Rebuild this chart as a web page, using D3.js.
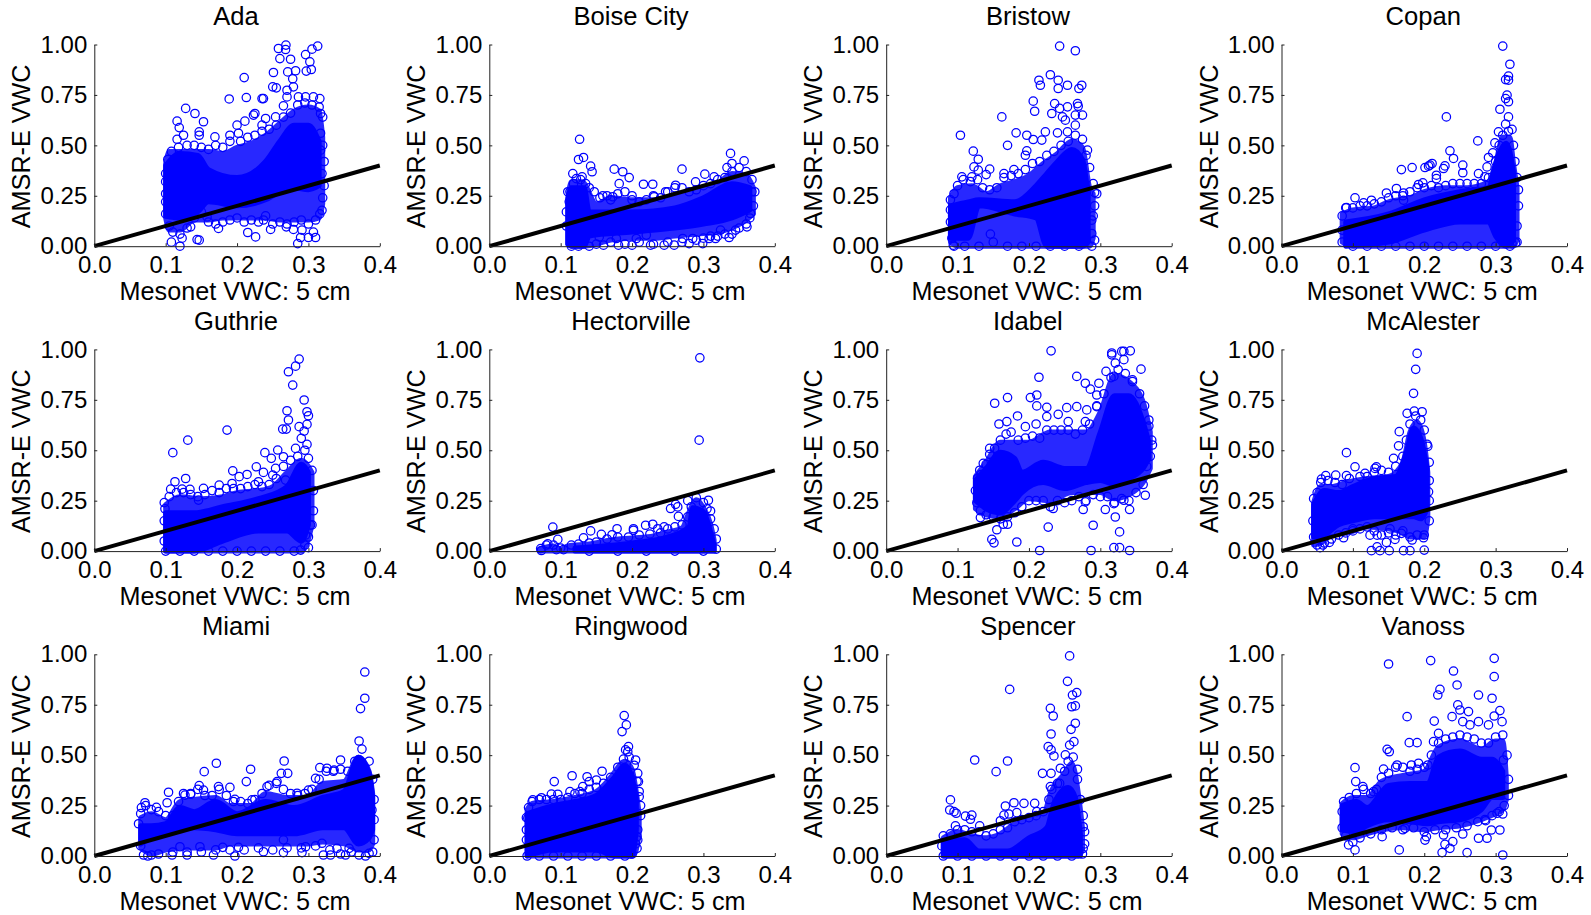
<!DOCTYPE html>
<html>
<head>
<meta charset="utf-8">
<script src="https://cdn.jsdelivr.net/npm/d3@7"></script>
<style>
    html, body { margin: 0; background: #fff; }
    text { font-family: "Liberation Sans", Arial, sans-serif; fill: #000; }
</style>
</head>
<body>
<div id="chart"></div>
<script>
// Axis ticks and reference line
const xTicks = [0, 0.1, 0.2, 0.3, 0.4];
const yTicks = [0, 0.25, 0.5, 0.75, 1];
const oneToOne = [[0, 0], [0.4, 0.4]];

// The clouds are thousands of overlapping rings in the original, too many to read one by one.
// *Cloud and *Core are [x, low, high] outlines (cloud = speckled, core = solid blue),
// *Pts are the rings that can be told apart, *Rim the rings along the edge of the cloud (estimated).
const adaCloud = [[.1,.14,.41],[.105,.08,.47],[.12,.08,.47],[.14,.13,.47],[.16,.13,.47],[.18,.14,.46],[.2,.14,.49],[.22,.14,.51],[.24,.14,.55],[.26,.13,.61],[.28,.13,.67],[.3,.13,.69],[.315,.14,.67],[.32,.21,.54]];
const adaCore = [[.1,.15,.4],[.12,.14,.46],[.145,.17,.45],[.16,.22,.38],[.2,.2,.34],[.24,.23,.42],[.26,.27,.52],[.28,.29,.6],[.3,.28,.6],[.315,.3,.52]];
const adaPts = [[.258,.98],[.2685,.997],[.268,.975],[.296,.95],[.305,.977],[.313,.992],[.26,.93],[.275,.927],[.302,.914],[.304,.876],[.297,.868],[.251,.861],[.271,.864],[.282,.87],[.278,.83],[.21,.836],[.25,.79],[.255,.785],[.27,.773],[.279,.79],[.189,.73],[.213,.737],[.235,.732],[.237,.732],[.27,.74],[.286,.74],[.296,.74],[.307,.74],[.316,.732],[.128,.683],[.141,.658],[.153,.617],[.116,.62],[.119,.588],[.125,.55],[.147,.567],[.147,.55],[.116,.53],[.169,.542],[.2,.6],[.211,.62],[.223,.65],[.225,.658],[.24,.633],[.235,.6],[.254,.641],[.19,.55],[.202,.56],[.265,.696],[.108,.02],[.12,0],[.123,.04],[.144,.033],[.147,.03],[.135,.096],[.174,.088],[.215,.068],[.226,.046],[.237,.13],[.247,.083],[.269,.096],[.279,.083],[.285,.013],[.291,.08],[.289,.043],[.3,.043],[.31,.043],[.307,.07],[.319,.178],[.319,.36],[.317,.476],[.317,.658],[.317,.56],[.1,.36],[.1,.32],[.1,.26],[.158,.145]];
const adaRim = [[.103,.43],[.108,.47],[.118,.49],[.13,.5],[.14,.5],[.15,.49],[.16,.48],[.17,.5],[.18,.49],[.19,.52],[.205,.52],[.215,.54],[.225,.55],[.235,.57],[.245,.58],[.255,.6],[.265,.64],[.275,.66],[.285,.7],[.295,.71],[.305,.7],[.315,.69],[.32,.64],[.32,.5],[.322,.42],[.322,.3],[.32,.24],[.316,.16],[.31,.13],[.3,.11],[.29,.13],[.28,.12],[.27,.11],[.26,.12],[.25,.11],[.24,.15],[.23,.12],[.22,.13],[.21,.12],[.2,.14],[.19,.13],[.18,.12],[.17,.11],[.16,.12],[.15,.17],[.14,.14],[.13,.09],[.12,.06],[.11,.07],[.105,.1],[.1,.16],[.1,.22]];

const boiseCloud = [[.11,.01,.24],[.115,0,.32],[.13,0,.32],[.15,.01,.21],[.17,.03,.24],[.2,.04,.23],[.23,.04,.23],[.26,.05,.25],[.29,.06,.27],[.32,.07,.31],[.34,.09,.36],[.36,.13,.35],[.37,.16,.29]];
const boiseCore = [[.11,.01,.23],[.115,0,.29],[.133,0,.29],[.14,.05,.17],[.2,.07,.17],[.26,.09,.19],[.3,.11,.24],[.34,.14,.31],[.365,.18,.29]];
const boisePts = [[.1265,.53],[.125,.43],[.132,.44],[.142,.397],[.144,.369],[.117,.36],[.13,.344],[.175,.382],[.187,.369],[.196,.34],[.216,.307],[.229,.307],[.27,.382],[.182,.31],[.289,.319],[.302,.357],[.338,.46],[.357,.423],[.333,.39],[.34,.41],[.315,.344],[.261,.302],[.247,.27],[.368,.27],[.366,.162],[.361,.096],[.336,.043],[.345,.08],[.324,.08],[.16,.005],[.181,.005],[.2,.005],[.226,.005],[.245,.005],[.259,.005],[.28,.013],[.299,.013],[.154,.046],[.178,.038],[.206,.038],[.22,.055],[.271,.038],[.285,.038],[.308,.038],[.317,.038],[.159,.25],[.173,.245],[.2,.25],[.231,.245],[.113,.27]];
const boiseRim = [[.11,.27],[.112,.22],[.118,.31],[.122,.335],[.128,.33],[.135,.31],[.14,.29],[.147,.27],[.155,.24],[.165,.25],[.17,.23],[.18,.26],[.19,.27],[.2,.23],[.21,.22],[.22,.23],[.23,.25],[.24,.24],[.25,.27],[.26,.29],[.27,.29],[.28,.27],[.29,.28],[.3,.3],[.31,.31],[.32,.33],[.33,.34],[.34,.37],[.35,.39],[.36,.37],[.368,.33],[.372,.27],[.37,.2],[.365,.14],[.36,.11],[.35,.09],[.34,.06],[.33,.06],[.32,.05],[.31,.05],[.3,.04],[.29,.03],[.27,.02],[.25,.02],[.23,.01],[.21,.02],[.19,.01],[.17,.02],[.15,.01],[.14,0],[.125,0],[.115,0],[.108,.1],[.108,.17]];

const bristowCloud = [[.09,.02,.24],[.1,0,.29],[.12,0,.3],[.14,0,.26],[.16,0,.3],[.18,0,.32],[.2,0,.35],[.22,0,.41],[.24,0,.46],[.26,0,.52],[.275,0,.49],[.285,0,.29],[.29,.04,.26]];
const bristowCore = [[.09,.04,.2],[.115,.04,.22],[.13,.2,.23],[.18,.16,.22],[.21,.14,.3],[.225,0,.36],[.24,0,.42],[.26,0,.48],[.275,0,.43],[.283,.02,.25]];
const bristowPts = [[.243,.992],[.265,.969],[.23,.85],[.214,.823],[.216,.798],[.241,.823],[.241,.782],[.254,.798],[.27,.782],[.274,.798],[.206,.719],[.208,.669],[.236,.707],[.268,.707],[.269,.694],[.254,.691],[.243,.683],[.232,.658],[.265,.65],[.275,.65],[.247,.641],[.251,.625],[.162,.641],[.265,.6],[.104,.55],[.182,.562],[.197,.55],[.206,.529],[.218,.526],[.223,.567],[.24,.562],[.254,.567],[.17,.5],[.122,.471],[.129,.431],[.197,.473],[.195,.451],[.282,.476],[.123,.393],[.129,.377],[.145,.382],[.14,.355],[.106,.344],[.12,.344],[.165,.36],[.179,.38],[.292,.266],[.288,.129],[.288,.063],[.094,.005],[.146,.06]];
const bristowRim = [[.09,.23],[.095,.26],[.1,.3],[.108,.33],[.118,.32],[.128,.33],[.135,.29],[.145,.28],[.155,.29],[.165,.34],[.175,.35],[.185,.36],[.195,.38],[.205,.41],[.215,.42],[.225,.45],[.235,.47],[.245,.5],[.255,.52],[.265,.55],[.275,.53],[.28,.45],[.285,.39],[.29,.31],[.295,.26],[.292,.2],[.29,.15],[.292,.03],[.288,0],[.27,0],[.25,0],[.23,0],[.21,0],[.19,0],[.17,0],[.15,.02],[.13,0],[.11,0],[.095,0],[.092,.04],[.09,.12],[.09,.18]];

const copanCloud = [[.085,.02,.16],[.1,0,.18],[.13,0,.19],[.15,0,.22],[.18,0,.24],[.2,0,.27],[.23,0,.29],[.26,0,.29],[.29,0,.32],[.3,0,.41],[.31,0,.54],[.32,0,.54],[.325,0,.41],[.33,.03,.29]];
const copanCore = [[.09,0,.12],[.15,.02,.16],[.2,.08,.23],[.25,.12,.27],[.29,.12,.29],[.3,.05,.41],[.315,0,.51],[.325,.03,.37]];
const copanPts = [[.31,.992],[.32,.902],[.318,.843],[.314,.826],[.318,.823],[.316,.749],[.314,.732],[.318,.716],[.306,.679],[.318,.641],[.231,.641],[.314,.605],[.304,.567],[.323,.579],[.275,.522],[.299,.512],[.296,.463],[.29,.44],[.236,.473],[.241,.435],[.288,.393],[.168,.38],[.183,.39],[.201,.39],[.208,.402],[.211,.41],[.206,.397],[.217,.352],[.217,.335],[.227,.385],[.229,.398],[.254,.402],[.254,.364],[.276,.36],[.285,.344],[.161,.286],[.171,.264],[.147,.264],[.103,.24],[.115,.215],[.126,.228],[.192,.306],[.198,.314],[.171,.228],[.091,.192],[.328,.017],[.323,.013]];
const copanRim = [[.085,.02],[.085,.08],[.085,.15],[.09,.19],[.1,.19],[.11,.2],[.12,.2],[.13,.21],[.14,.22],[.15,.24],[.16,.25],[.17,.25],[.18,.27],[.19,.29],[.2,.29],[.21,.3],[.22,.29],[.23,.3],[.24,.31],[.25,.31],[.26,.31],[.27,.31],[.28,.31],[.29,.34],[.3,.42],[.305,.5],[.31,.55],[.318,.57],[.325,.5],[.327,.42],[.33,.34],[.332,.28],[.332,.2],[.33,.1],[.33,.02],[.32,0],[.3,0],[.28,0],[.26,0],[.24,0],[.22,0],[.2,0],[.18,0],[.16,0],[.14,0],[.12,0],[.1,0]];

const guthrieCloud = [[.1,0,.23],[.12,0,.27],[.15,0,.26],[.18,0,.27],[.2,0,.29],[.23,0,.3],[.25,0,.32],[.27,0,.39],[.29,0,.45],[.3,.06,.42],[.305,.13,.39]];
const guthrieCore = [[.1,0,.19],[.14,0,.19],[.18,.05,.22],[.23,.1,.26],[.27,.1,.32],[.29,.05,.43],[.3,.13,.39]];
const guthriePts = [[.287,.952],[.282,.917],[.272,.889],[.278,.823],[.294,.749],[.298,.691],[.27,.696],[.3,.671],[.272,.65],[.264,.605],[.269,.605],[.298,.628],[.287,.617],[.294,.595],[.186,.6],[.131,.55],[.11,.488],[.29,.559],[.298,.529],[.282,.509],[.239,.488],[.257,.501],[.248,.46],[.265,.468],[.254,.41],[.227,.418],[.237,.39],[.194,.398],[.203,.369],[.214,.38],[.25,.377],[.128,.36],[.113,.344],[.107,.307],[.123,.307],[.134,.306],[.153,.311],[.175,.327],[.193,.335],[.268,.352],[.23,.344],[.099,.21],[.146,.253],[.3,.017],[.289,.005],[.303,.129],[.296,.08]];
const guthrieRim = [[.098,.24],[.098,.15],[.098,.05],[.1,0],[.105,.27],[.115,.29],[.125,.29],[.135,.28],[.145,.27],[.155,.28],[.165,.3],[.175,.29],[.185,.31],[.195,.31],[.205,.31],[.215,.32],[.225,.33],[.235,.32],[.245,.33],[.255,.36],[.265,.42],[.275,.45],[.285,.47],[.295,.5],[.3,.46],[.305,.4],[.307,.3],[.307,.2],[.305,.13],[.3,.07],[.295,.03],[.28,0],[.26,0],[.24,0],[.22,0],[.2,0],[.18,0],[.16,0],[.14,0],[.12,0]];

const hectorCloud = [[.07,0,.01],[.09,0,.025],[.1,0,.01],[.11,0,.025],[.14,0,.035],[.17,0,.055],[.2,0,.065],[.23,0,.075],[.25,0,.095],[.27,0,.115],[.28,0,.195],[.29,0,.255],[.3,0,.215],[.31,0,.135],[.315,0,.055]];
const hectorCore = [[.12,0,.015],[.2,0,.04],[.25,0,.07],[.28,0,.12],[.285,0,.215],[.3,0,.195],[.31,0,.095],[.315,0,.03]];
const hectorPts = [[.295,.958],[.294,.55],[.089,.119],[.096,.058],[.082,.036],[.132,.066],[.142,.1],[.157,.083],[.172,.081],[.179,.111],[.202,.103],[.202,.111],[.219,.128],[.229,.133],[.236,.111],[.254,.211],[.261,.232],[.264,.219],[.265,.172],[.307,.252],[.31,.199],[.278,.25],[.073,.003],[.094,.007],[.104,.007],[.245,.12]];
const hectorRim = [[.072,.012],[.08,.03],[.09,.03],[.1,.015],[.115,.03],[.125,.035],[.14,.04],[.15,.045],[.165,.06],[.18,.07],[.195,.07],[.21,.08],[.225,.085],[.24,.09],[.25,.11],[.26,.12],[.27,.13],[.278,.17],[.283,.22],[.29,.265],[.3,.24],[.305,.21],[.31,.16],[.315,.11],[.318,.06],[.318,.01],[.3,0],[.26,0],[.22,0],[.18,0],[.14,0]];

const idabelCloud = [[.125,.21,.37],[.14,.18,.44],[.16,.17,.54],[.18,.21,.54],[.2,.26,.54],[.23,.25,.59],[.26,.29,.59],[.28,.29,.59],[.3,.29,.69],[.32,.26,.87],[.34,.28,.84],[.36,.34,.74],[.37,.41,.59]];
const idabelCore = [[.125,.25,.35],[.14,.21,.41],[.16,.19,.49],[.18,.25,.46],[.19,.29,.39],[.22,.34,.44],[.25,.31,.41],[.28,.34,.41],[.3,.35,.59],[.32,.33,.77],[.34,.36,.77],[.36,.41,.64],[.368,.46,.54]];
const idabelPts = [[.231,.993],[.342,.993],[.333,.99],[.33,.99],[.316,.982],[.316,.973],[.321,.932],[.333,.949],[.357,.902],[.308,.891],[.319,.866],[.267,.866],[.214,.862],[.279,.832],[.298,.832],[.345,.849],[.286,.803],[.295,.774],[.211,.774],[.202,.761],[.17,.761],[.152,.733],[.211,.72],[.225,.713],[.253,.711],[.267,.716],[.281,.7],[.295,.716],[.241,.678],[.184,.67],[.225,.667],[.158,.63],[.169,.642],[.21,.63],[.195,.617],[.255,.642],[.279,.642],[.145,.509],[.136,.435],[.131,.401],[.368,.65],[.373,.526],[.363,.277],[.341,.206],[.321,.169],[.327,.095],[.29,.128],[.227,.119],[.17,.133],[.164,.133],[.155,.106],[.148,.058],[.151,.041],[.183,.045],[.215,.003],[.287,.003],[.319,.017],[.327,.017],[.341,.003],[.279,.244],[.276,.206],[.307,.206],[.234,.211],[.132,.166],[.319,.235],[.333,.252]];
const idabelRim = [[.125,.3],[.128,.36],[.133,.38],[.14,.43],[.145,.48],[.152,.51],[.16,.55],[.168,.58],[.175,.59],[.185,.55],[.195,.56],[.205,.57],[.215,.56],[.225,.6],[.235,.6],[.245,.6],[.255,.6],[.265,.58],[.275,.6],[.285,.63],[.295,.72],[.305,.78],[.315,.86],[.325,.9],[.335,.88],[.345,.84],[.355,.78],[.362,.72],[.368,.62],[.372,.55],[.37,.47],[.365,.42],[.36,.33],[.35,.29],[.34,.25],[.33,.26],[.32,.24],[.31,.27],[.3,.27],[.29,.28],[.28,.25],[.27,.27],[.26,.25],[.25,.24],[.24,.25],[.23,.22],[.22,.25],[.21,.25],[.2,.25],[.19,.22],[.18,.19],[.17,.17],[.16,.16],[.15,.17],[.14,.18],[.132,.2],[.127,.24]];

const mcalesterCloud = [[.045,.03,.24],[.055,.04,.32],[.07,.08,.32],[.09,.09,.34],[.12,.12,.36],[.15,.11,.37],[.17,.09,.44],[.18,.07,.59],[.19,.07,.64],[.2,.07,.54],[.205,.16,.39]];
const mcalesterCore = [[.045,.07,.23],[.06,.08,.3],[.08,.13,.29],[.1,.15,.32],[.13,.17,.36],[.16,.17,.37],[.175,.17,.49],[.185,.17,.61],[.195,.16,.56],[.204,.21,.41]];
const mcalesterPts = [[.19,.98],[.188,.901],[.185,.782],[.186,.694],[.197,.691],[.176,.683],[.165,.592],[.164,.522],[.091,.488],[.103,.418],[.076,.377],[.062,.374],[.056,.357],[.091,.374],[.117,.385],[.133,.418],[.131,.41],[.157,.46],[.204,.529],[.126,.002],[.138,.002],[.151,.002],[.171,.002],[.18,.002],[.2,.005],[.199,.066],[.159,.058],[.147,.043],[.134,.021],[.134,.079],[.124,.079],[.087,.066],[.067,.043],[.054,.017],[.058,.03],[.168,.088],[.183,.055],[.206,.294],[.1,.11],[.152,.11]];
const mcalesterRim = [[.045,.26],[.05,.29],[.055,.34],[.065,.35],[.075,.34],[.085,.33],[.095,.36],[.11,.37],[.12,.37],[.13,.39],[.14,.4],[.15,.39],[.16,.42],[.17,.47],[.175,.55],[.18,.63],[.188,.67],[.195,.65],[.2,.6],[.205,.52],[.207,.44],[.207,.35],[.207,.25],[.207,.15],[.2,.08],[.19,.08],[.18,.07],[.17,.1],[.16,.08],[.15,.09],[.14,.08],[.13,.1],[.12,.12],[.11,.11],[.1,.1],[.09,.09],[.08,.08],[.07,.06],[.06,.04],[.05,.03],[.045,.07],[.044,.15]];

const miamiCloud = [[.065,.04,.19],[.08,.01,.21],[.1,.03,.18],[.12,.04,.27],[.14,.04,.28],[.17,.04,.29],[.19,.06,.25],[.22,.06,.25],[.24,.06,.31],[.27,.06,.29],[.3,.06,.29],[.32,.07,.36],[.35,.06,.37],[.37,.03,.49],[.385,.03,.42],[.39,.06,.31]];
const miamiCore = [[.065,.06,.15],[.08,.09,.15],[.1,.11,.16],[.12,.14,.24],[.14,.14,.22],[.17,.13,.27],[.2,.11,.21],[.24,.11,.27],[.28,.11,.24],[.32,.14,.29],[.35,.14,.32],[.37,.06,.49],[.385,.09,.41],[.39,.13,.29]];
const miamiPts = [[.379,.912],[.379,.782],[.373,.731],[.371,.57],[.171,.46],[.154,.418],[.219,.43],[.213,.369],[.266,.471],[.262,.41],[.271,.41],[.256,.369],[.345,.476],[.316,.438],[.326,.435],[.336,.426],[.31,.385],[.104,.316],[.102,.264],[.147,.349],[.174,.344],[.19,.34],[.153,.327],[.127,.302],[.135,.306],[.071,.264],[.066,.24],[.087,.241],[.197,.281],[.221,.278],[.242,.344],[.284,.311],[.3,.327],[.321,.005],[.331,.005],[.352,.005],[.371,.005],[.385,.013],[.319,.063],[.34,.038],[.357,.038],[.291,.017],[.265,.017],[.237,.021],[.197,0],[.18,.043],[.167,.005],[.13,.005],[.109,.005],[.08,.005],[.069,.005],[.148,.046],[.12,.046],[.202,.043],[.265,.08],[.296,.046],[.389,.228]];
const miamiRim = [[.062,.16],[.065,.21],[.072,.25],[.08,.23],[.09,.22],[.1,.2],[.11,.2],[.118,.27],[.125,.31],[.135,.31],[.145,.33],[.155,.3],[.165,.3],[.175,.33],[.185,.3],[.195,.27],[.205,.27],[.215,.26],[.225,.28],[.235,.31],[.245,.35],[.255,.36],[.265,.33],[.275,.31],[.285,.3],[.295,.31],[.305,.33],[.315,.38],[.325,.42],[.335,.42],[.345,.43],[.355,.42],[.365,.47],[.375,.53],[.385,.47],[.39,.38],[.392,.28],[.392,.18],[.392,.08],[.39,.02],[.38,0],[.36,.02],[.345,.01],[.33,.03],[.31,.05],[.29,.04],[.27,.04],[.25,.03],[.23,.04],[.21,.03],[.19,.03],[.17,.03],[.15,.02],[.13,.02],[.11,.02],[.09,.01],[.075,0],[.065,.05]];

const ringwoodCloud = [[.053,0,.23],[.06,0,.26],[.09,0,.27],[.12,0,.29],[.15,0,.32],[.17,0,.39],[.19,0,.47],[.2,0,.43],[.205,.02,.34],[.21,.11,.21]];
const ringwoodCore = [[.053,0,.21],[.09,.03,.25],[.12,.03,.27],[.15,.03,.3],[.175,0,.39],[.19,0,.45],[.2,0,.39],[.206,.13,.29]];
const ringwoodPts = [[.189,.696],[.192,.65],[.186,.617],[.195,.542],[.191,.526],[.194,.517],[.205,.476],[.158,.42],[.116,.398],[.137,.393],[.15,.377],[.14,.369],[.091,.369],[.131,.344],[.087,.307],[.096,.306],[.113,.319],[.127,.319],[.061,.278],[.073,.289],[.208,.41],[.209,.369],[.21,.294],[.207,.096],[.208,.079],[.207,.038],[.054,.187]];
const ringwoodRim = [[.052,.19],[.055,.24],[.06,.27],[.07,.28],[.08,.28],[.09,.28],[.1,.28],[.11,.29],[.12,.31],[.13,.31],[.14,.33],[.15,.34],[.16,.36],[.17,.39],[.18,.44],[.188,.48],[.196,.49],[.203,.45],[.207,.37],[.21,.32],[.212,.25],[.212,.2],[.208,.13],[.205,.06],[.2,.01],[.19,0],[.17,0],[.15,0],[.13,0],[.11,0],[.09,0],[.07,0],[.053,0],[.052,.08],[.052,.13]];

const spencerCloud = [[.08,0,.09],[.1,0,.12],[.12,0,.1],[.14,0,.09],[.16,0,.11],[.18,0,.16],[.2,0,.18],[.22,0,.2],[.23,0,.31],[.25,0,.41],[.26,0,.46],[.27,0,.29],[.275,.03,.14]];
const spencerCore = [[.08,0,.07],[.11,0,.08],[.13,0,.025],[.17,0,.025],[.2,0,.09],[.225,0,.14],[.235,0,.26],[.255,0,.34],[.265,0,.29],[.272,0,.11]];
const spencerPts = [[.257,.992],[.254,.866],[.173,.826],[.267,.81],[.261,.798],[.26,.74],[.265,.744],[.23,.732],[.234,.694],[.265,.658],[.259,.628],[.231,.605],[.263,.567],[.257,.55],[.227,.542],[.231,.526],[.235,.496],[.251,.501],[.124,.476],[.17,.471],[.154,.418],[.219,.41],[.231,.41],[.244,.435],[.268,.43],[.23,.344],[.243,.36],[.09,.278],[.089,.228],[.095,.22],[.098,.212],[.111,.198],[.12,.203],[.118,.182],[.167,.248],[.179,.264],[.193,.261],[.208,.261],[.165,.203],[.172,.208],[.183,.215],[.16,.175],[.211,.22],[.131,.149],[.097,.149],[.276,.145],[.276,.038]];
const spencerRim = [[.08,.1],[.09,.11],[.1,.13],[.11,.13],[.12,.12],[.13,.12],[.14,.1],[.15,.11],[.16,.13],[.17,.14],[.18,.17],[.19,.18],[.2,.19],[.21,.2],[.22,.22],[.228,.28],[.232,.33],[.24,.36],[.25,.42],[.255,.47],[.262,.49],[.268,.38],[.272,.28],[.276,.2],[.278,.12],[.278,.06],[.275,.01],[.26,0],[.24,0],[.22,0],[.2,0],[.18,0],[.16,0],[.14,0],[.12,0],[.1,0],[.08,0],[.078,.05]];

const vanossCloud = [[.085,.11,.26],[.1,.09,.29],[.12,.11,.29],[.14,.13,.37],[.17,.14,.4],[.2,.13,.42],[.22,.14,.54],[.25,.15,.57],[.28,.18,.53],[.3,.21,.57],[.31,.23,.57],[.315,.28,.39]];
const vanossCore = [[.085,.13,.25],[.105,.12,.27],[.12,.15,.24],[.15,.18,.35],[.18,.17,.36],[.205,.16,.36],[.22,.17,.49],[.25,.18,.52],[.28,.23,.48],[.295,.29,.48],[.31,.29,.42]];
const vanossPts = [[.15,.952],[.209,.969],[.241,.917],[.298,.98],[.298,.889],[.246,.848],[.222,.826],[.219,.798],[.276,.798],[.295,.782],[.247,.749],[.25,.724],[.262,.716],[.306,.721],[.176,.691],[.239,.691],[.298,.694],[.214,.669],[.254,.666],[.276,.666],[.309,.666],[.264,.65],[.29,.65],[.22,.608],[.179,.562],[.19,.562],[.213,.567],[.148,.529],[.151,.517],[.103,.438],[.143,.431],[.162,.451],[.182,.451],[.192,.46],[.205,.451],[.104,.369],[.114,.344],[.129,.319],[.141,.096],[.165,.03],[.103,.03],[.094,.055],[.201,.079],[.203,.096],[.229,.058],[.24,.071],[.236,.038],[.225,.017],[.26,.017],[.254,.109],[.276,.088],[.288,.088],[.286,.175],[.294,.129],[.306,.129],[.31,.005],[.31,.208],[.302,.212],[.311,.476],[.227,.104],[.173,.137]];
const vanossRim = [[.085,.14],[.085,.22],[.087,.27],[.095,.29],[.105,.31],[.115,.33],[.125,.31],[.133,.33],[.14,.39],[.15,.41],[.16,.44],[.17,.44],[.18,.42],[.19,.43],[.2,.44],[.21,.5],[.22,.56],[.23,.58],[.24,.59],[.25,.6],[.26,.59],[.27,.58],[.28,.56],[.29,.56],[.3,.59],[.31,.6],[.316,.5],[.318,.38],[.318,.3],[.312,.25],[.305,.22],[.295,.2],[.285,.18],[.275,.17],[.26,.15],[.245,.14],[.23,.13],[.215,.13],[.2,.12],[.185,.14],[.17,.13],[.155,.14],[.14,.13],[.125,.11],[.11,.09],[.1,.07],[.09,.1]];

const stations = [
    { name: 'Ada', cloud: adaCloud, core: adaCore, pts: adaPts.concat(adaRim) },
    { name: 'Boise City', cloud: boiseCloud, core: boiseCore, pts: boisePts.concat(boiseRim) },
    { name: 'Bristow', cloud: bristowCloud, core: bristowCore, pts: bristowPts.concat(bristowRim) },
    { name: 'Copan', cloud: copanCloud, core: copanCore, pts: copanPts.concat(copanRim) },
    { name: 'Guthrie', cloud: guthrieCloud, core: guthrieCore, pts: guthriePts.concat(guthrieRim) },
    { name: 'Hectorville', cloud: hectorCloud, core: hectorCore, pts: hectorPts.concat(hectorRim) },
    { name: 'Idabel', cloud: idabelCloud, core: idabelCore, pts: idabelPts.concat(idabelRim) },
    { name: 'McAlester', cloud: mcalesterCloud, core: mcalesterCore, pts: mcalesterPts.concat(mcalesterRim) },
    { name: 'Miami', cloud: miamiCloud, core: miamiCore, pts: miamiPts.concat(miamiRim) },
    { name: 'Ringwood', cloud: ringwoodCloud, core: ringwoodCore, pts: ringwoodPts.concat(ringwoodRim) },
    { name: 'Spencer', cloud: spencerCloud, core: spencerCore, pts: spencerPts.concat(spencerRim) },
    { name: 'Vanoss', cloud: vanossCloud, core: vanossCore, pts: vanossPts.concat(vanossRim) }
];

const width = 1591;
const height = 915;
const colX = [94.3, 489.3, 886.2, 1281.5];
const rowY = [44.5, 349.4, 654.3];
const innerWidth = 285.5;
const innerHeight = 201.7;
const blue = '#0000ff';

const svg = d3.select('#chart').append('svg')
    .attr('width', width)
    .attr('height', height)
    .style('display', 'block');

const xScale = d3.scaleLinear().domain([0, 0.4]).range([0, innerWidth]);
const yScale = d3.scaleLinear().domain([0, 1]).range([innerHeight, 0]);

const envelope = d3.area()
    .x(d => xScale(d[0]))
    .y0(d => yScale(d[1]))
    .y1(d => yScale(d[2]))
    .curve(d3.curveMonotoneX);

const line = d3.line()
    .x(d => xScale(d[0]))
    .y(d => yScale(d[1]));

stations.forEach((station, i) => {
    const g = svg.append('g')
        .attr('transform', `translate(${colX[i % 4]},${rowY[Math.floor(i / 4)]})`);

    // Speckled part of the cloud, then the solid part
    g.append('path')
        .attr('d', envelope(station.cloud))
        .attr('opacity', 0.84)
        .attr('fill', blue)
        .attr('stroke', blue)
        .attr('stroke-width', 5)
        .attr('stroke-linejoin', 'round');

    g.append('path')
        .attr('d', envelope(station.core))
        .attr('fill', blue)
        .attr('stroke', blue)
        .attr('stroke-width', 5)
        .attr('stroke-linejoin', 'round');

    g.selectAll('circle')
        .data(station.pts)
        .enter()
        .append('circle')
        .attr('cx', d => xScale(d[0]))
        .attr('cy', d => yScale(d[1]))
        .attr('r', 4.2)
        .attr('fill', 'none')
        .attr('stroke', blue)
        .attr('stroke-width', 1.25);

    g.append('path')
        .attr('d', line(oneToOne))
        .attr('fill', 'none')
        .attr('stroke', '#000')
        .attr('stroke-width', 4);

    // MATLAB style axes: inward ticks, no box
    const xAxis = g.append('g')
        .attr('transform', `translate(0,${innerHeight})`)
        .call(d3.axisBottom(xScale).tickValues(xTicks).tickFormat(d3.format('.1f')).tickSizeInner(-3).tickSizeOuter(0).tickPadding(9.8));

    const yAxis = g.append('g')
        .call(d3.axisLeft(yScale).tickValues(yTicks).tickFormat(d3.format('.2f')).tickSizeInner(-3).tickSizeOuter(0).tickPadding(7));

    [xAxis, yAxis].forEach(axis => {
        axis.attr('font-family', null).attr('font-size', null);
        axis.selectAll('text').style('font-size', '24px');
        axis.selectAll('path, line').attr('stroke', '#222');
    });

    g.append('text')
        .attr('x', innerWidth / 2 - 1)
        .attr('y', -19.5)
        .attr('text-anchor', 'middle')
        .style('font-size', '25.6px')
        .text(station.name);

    g.append('text')
        .attr('x', innerWidth / 2 - 2)
        .attr('y', innerHeight + 54)
        .attr('text-anchor', 'middle')
        .style('font-size', '25.2px')
        .text('Mesonet VWC: 5 cm');

    g.append('text')
        .attr('transform', 'rotate(-90)')
        .attr('x', -innerHeight / 2 - 1)
        .attr('y', -64)
        .attr('text-anchor', 'middle')
        .style('font-size', '25.2px')
        .text('AMSR-E VWC');
});
</script>
</body>
</html>
